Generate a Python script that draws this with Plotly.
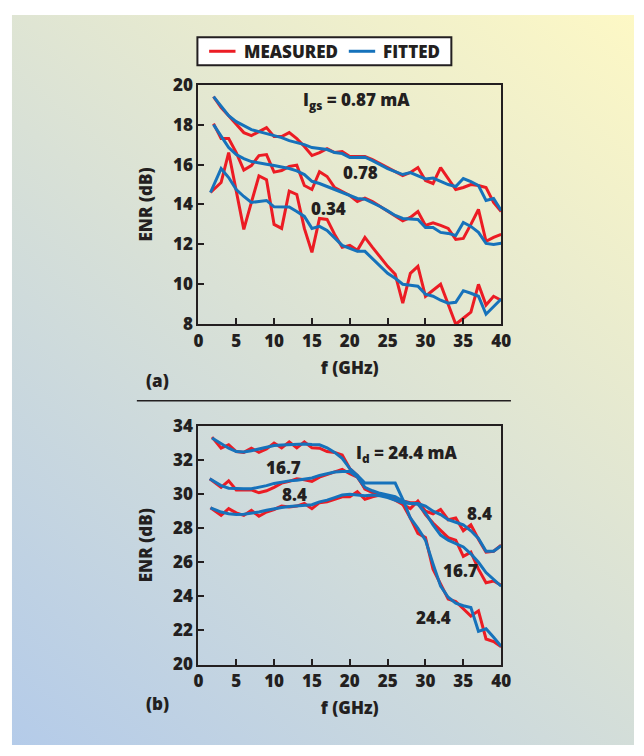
import base64
import plotly.graph_objects as go

W, H = 644, 756

# ---------------- data (a) ----------------
f_a = list(range(2, 41))
f_a_low = [1.6] + list(range(3, 41))

meas_087 = [19.4, 18.85, 18.45, 18.0, 17.6, 17.45, 17.65, 17.85, 17.4, 17.4, 17.6, 17.3, 16.9,
            16.45, 16.6, 16.8, 16.6, 16.65, 16.4, 16.4, 16.4, 16.25, 16.05, 15.85, 15.65, 15.45,
            15.6, 15.85, 15.2, 15.05, 15.85, 15.3, 14.75, 14.85, 15.0, 14.95, 14.85, 14.1, 13.65]
fit_087 = [19.4, 18.9, 18.45, 18.15, 17.95, 17.75, 17.65, 17.55, 17.45, 17.35, 17.2, 17.1, 17.0,
           16.85, 16.8, 16.75, 16.6, 16.55, 16.35, 16.37, 16.37, 16.2, 16.0, 15.8, 15.65, 15.5,
           15.6, 15.45, 15.28, 15.32, 15.15, 15.0, 14.9, 15.3, 15.15, 14.95, 14.2, 14.3, 13.7]

meas_078 = [18.05, 17.3, 17.3, 16.6, 15.72, 15.95, 16.45, 16.5, 15.62, 15.7, 15.9, 15.97, 14.95,
            14.75, 15.64, 15.4, 14.85, 14.65, 14.45, 14.15, 14.32, 14.15, 13.9, 13.65, 13.4, 13.18,
            13.35, 13.65, 12.95, 13.08, 12.95, 12.8, 12.25, 12.3, 13.0, 13.75, 12.15, 12.35, 12.5]
fit_078 = [18.0, 17.4, 16.85, 16.5, 16.3, 16.15, 16.07, 16.02, 15.95, 15.88, 15.8, 15.68, 15.5,
           15.16, 15.05, 14.9, 14.75, 14.6, 14.42, 14.3, 14.26, 14.1, 13.9, 13.68, 13.45, 13.3,
           13.28, 13.25, 12.85, 12.85, 12.6, 12.55, 12.45, 13.1, 12.9, 12.6, 12.05, 12.0, 12.06]

meas_034 = [14.6, 15.1, 16.6, 14.7, 12.75, 14.1, 15.43, 15.24, 13.0, 12.8, 14.67, 14.5, 12.8,
            11.6, 13.3, 13.25, 12.5, 11.85, 11.95, 11.7, 12.35, 11.85, 11.35, 10.9, 10.5, 9.06,
            10.55, 10.9, 9.4, 9.7, 10.0, 9.0, 8.0, 8.3, 8.6, 10.0, 8.96, 9.4, 9.2]
fit_034 = [14.6, 15.8, 15.35, 14.75, 14.4, 14.1, 14.15, 14.2, 13.88, 13.87, 13.87, 13.65, 13.4,
           12.8, 12.9, 12.7, 12.3, 11.95, 11.8, 11.65, 11.65, 11.3, 10.9, 10.55, 10.3, 10.0,
           9.95, 9.9, 9.5, 9.4, 9.2, 9.05, 9.1, 9.68, 9.55, 9.4, 8.5, 8.9, 9.26]

# ---------------- data (b) ----------------
f_b_244 = [1.8] + list(range(3, 41))
f_b_167 = [1.5] + list(range(3, 41))
f_b_84 = [1.6] + list(range(3, 41))

meas_244 = [33.35, 32.7, 32.9, 32.5, 32.45, 32.7, 32.45, 32.65, 33.0, 32.72, 33.07, 32.72, 33.07,
            32.72, 32.7, 32.5, 32.45, 32.3, 31.5, 31.1, 30.3, 30.1, 30.0, 29.9, 29.8, 29.4,
            28.6, 27.7, 27.45, 25.6, 24.75, 23.85, 23.7, 23.3, 22.85, 23.15, 21.5, 21.35, 21.05]
fit_244 = [33.3, 32.95, 32.7, 32.5, 32.48, 32.55, 32.65, 32.75, 32.85, 32.88, 32.9, 32.92, 32.95,
           32.92, 32.9, 32.72, 32.45, 32.1, 31.5, 31.1, 30.65, 30.65, 30.65, 30.65, 30.65, 29.7,
           28.6, 28.0, 27.3, 25.9, 24.6, 23.95, 23.6, 23.45, 23.35, 21.95, 22.1, 21.6, 21.07]

meas_167 = [30.9, 30.4, 30.78, 30.25, 30.25, 30.25, 30.08, 30.2, 30.4, 30.65, 30.75, 30.9, 30.85,
            30.75, 31.0, 31.15, 31.3, 31.45, 31.2, 31.0, 30.35, 30.15, 30.0, 29.85, 29.7, 29.6,
            29.5, 29.5, 28.8, 28.3, 27.85, 27.45, 27.3, 26.35, 26.6, 25.6, 24.8, 24.9, 24.65]
fit_167 = [30.9, 30.5, 30.35, 30.32, 30.32, 30.32, 30.4, 30.5, 30.63, 30.72, 30.78, 30.82, 30.88,
           30.95, 31.1, 31.2, 31.3, 31.33, 31.33, 31.0, 30.4, 30.2, 30.05, 29.95, 29.85, 29.6,
           29.45, 29.4, 28.9, 28.2, 27.6, 27.3, 27.1, 26.9, 26.5, 26.0, 25.4, 25.0, 24.6]

meas_84 = [29.2, 28.75, 29.15, 28.9, 28.75, 29.05, 28.7, 28.95, 29.1, 29.3, 29.25, 29.3, 29.45,
           29.15, 29.5, 29.55, 29.7, 29.85, 29.85, 30.15, 29.7, 29.85, 29.95, 29.85, 29.65, 29.4,
           29.15, 29.6, 29.0, 28.85, 29.1, 28.5, 28.6, 27.85, 28.2, 27.35, 26.6, 26.65, 27.0]
fit_84 = [29.2, 28.95, 28.85, 28.8, 28.82, 28.88, 28.95, 29.05, 29.15, 29.22, 29.28, 29.32, 29.35,
          29.38, 29.55, 29.65, 29.8, 29.95, 30.0, 29.95, 29.9, 29.95, 29.9, 29.8, 29.65, 29.5,
          29.45, 29.45, 29.3, 29.0, 28.8, 28.5, 28.35, 28.2, 27.85, 27.4, 26.65, 26.65, 26.97]

x_ticks = [0, 5, 10, 15, 20, 25, 30, 35, 40]
y_ticks_a = [8, 10, 12, 14, 16, 18, 20]
y_ticks_b = [20, 22, 24, 26, 28, 30, 32, 34]
legend_labels = ["MEASURED", "FITTED"]

RED = "#ec1c24"
BLUE = "#1672bb"
INK = "#231f20"
FONT = "Open Sans"

fig = go.Figure()

def add(x, y, color, xa, ya, name):
    fig.add_trace(go.Scatter(x=x, y=y, mode="lines", line=dict(color=color, width=3),
                             xaxis=xa, yaxis=ya, name=name, showlegend=False,
                             hoverinfo="skip"))

# measured first, fitted on top
add(f_a, meas_087, RED, "x", "y", "MEASURED 0.87")
add(f_a, meas_078, RED, "x", "y", "MEASURED 0.78")
add(f_a_low, meas_034, RED, "x", "y", "MEASURED 0.34")
add(f_b_244, meas_244, RED, "x2", "y2", "MEASURED 24.4")
add(f_b_167, meas_167, RED, "x2", "y2", "MEASURED 16.7")
add(f_b_84, meas_84, RED, "x2", "y2", "MEASURED 8.4")
add(f_a, fit_087, BLUE, "x", "y", "FITTED 0.87")
add(f_a, fit_078, BLUE, "x", "y", "FITTED 0.78")
add(f_a_low, fit_034, BLUE, "x", "y", "FITTED 0.34")
add(f_b_244, fit_244, BLUE, "x2", "y2", "FITTED 24.4")
add(f_b_167, fit_167, BLUE, "x2", "y2", "FITTED 16.7")
add(f_b_84, fit_84, BLUE, "x2", "y2", "FITTED 8.4")

def px_x(p):
    return p / W

def px_y(p):
    return 1 - p / H

xdom = [px_x(198), px_x(508)]
axfont = dict(family=FONT, size=17, color=INK, weight=800)
common_x = dict(range=[0, 40], tickvals=x_ticks, ticks="inside", ticklen=6, tickwidth=2,
                tickcolor=INK, showline=True, linecolor=INK, linewidth=2, mirror=True,
                showgrid=False, zeroline=False, tickfont=axfont, domain=xdom,
                title=dict(text="f (GHz)", font=axfont, standoff=11))
common_y = dict(ticks="inside", ticklen=6, tickwidth=2, tickcolor=INK, showline=True,
                linecolor=INK, linewidth=2, mirror=True, showgrid=False, zeroline=False,
                tickfont=axfont, title=dict(text="ENR (dB)", font=axfont, standoff=16))

fig.update_layout(
    width=W, height=H, margin=dict(l=0, r=0, t=0, b=0),
    paper_bgcolor="white", plot_bgcolor="white",
    font=dict(family=FONT, color=INK),
    showlegend=False,
    xaxis=dict(common_x, anchor="y"),
    yaxis=dict(common_y, range=[8, 20], tickvals=y_ticks_a,
               domain=[px_y(322), px_y(75)], anchor="x"),
    xaxis2=dict(common_x, anchor="y2"),
    yaxis2=dict(common_y, range=[20, 34], tickvals=y_ticks_b,
                domain=[px_y(673), px_y(427)], anchor="x2"),
)

# gradient background
svg = ('<svg xmlns="http://www.w3.org/2000/svg" width="644" height="756" viewBox="0 0 644 756" '
       'preserveAspectRatio="none"><defs><linearGradient id="g" gradientUnits="userSpaceOnUse" '
       'x1="0" y1="756" x2="644" y2="0"><stop offset="0" stop-color="#b4cbe9"/>'
       '<stop offset="0.5" stop-color="#d9e1d6"/><stop offset="1" stop-color="#fdf8c5"/>'
       '</linearGradient></defs><rect width="644" height="756" fill="url(#g)"/></svg>')
src = "data:image/svg+xml;base64," + base64.b64encode(svg.encode()).decode()
fig.add_layout_image(dict(source=src, xref="paper", yref="paper", x=px_x(7), y=px_y(3),
                          sizex=1 - px_x(7), sizey=1 - 3 / H, xanchor="left", yanchor="top",
                          sizing="stretch", layer="below"))

# separator
fig.add_shape(type="line", xref="paper", yref="paper", x0=px_x(135), x1=px_x(518),
              y0=px_y(401), y1=px_y(401), line=dict(color=INK, width=1.5))

lab = dict(family=FONT, size=17, color=INK, weight=800)

# legend box
fig.add_shape(type="rect", xref="paper", yref="paper", x0=px_x(197), x1=px_x(457),
              y0=px_y(55), y1=px_y(26), fillcolor="white", line=dict(color=INK, width=2))
for (x0, x1, tx, color, text) in [(209, 236, 243, RED, legend_labels[0]),
                                  (352, 379, 385, BLUE, legend_labels[1])]:
    fig.add_shape(type="line", xref="paper", yref="paper", x0=px_x(x0), x1=px_x(x1),
                  y0=px_y(40.5), y1=px_y(40.5), line=dict(color=color, width=3))
    fig.add_annotation(text=text, xref="paper", yref="paper", x=px_x(tx), y=px_y(40.5),
                       xanchor="left", yanchor="middle", showarrow=False, font=lab)

def note(text, xa, ya, x, y):
    fig.add_annotation(text=text, xref=xa, yref=ya, x=x, y=y, showarrow=False, font=lab)

note("I<sub>gs</sub> = 0.87 mA", "x", "y", 20.9, 19.2)
note("0.78", "x", "y", 21.4, 15.6)
note("0.34", "x", "y", 17.2, 13.8)
note("I<sub>d</sub> = 24.4 mA", "x2", "y2", 27.6, 32.4)
note("16.7", "x2", "y2", 11.2, 31.55)
note("8.4", "x2", "y2", 12.75, 30.0)
note("8.4", "x2", "y2", 37.1, 28.86)
note("16.7", "x2", "y2", 34.6, 25.54)
note("24.4", "x2", "y2", 31.1, 22.74)

fig.add_annotation(text="(a)", xref="paper", yref="paper", x=px_x(142), y=px_y(380),
                   showarrow=False, font=lab)
fig.add_annotation(text="(b)", xref="paper", yref="paper", x=px_x(142), y=px_y(727),
                   showarrow=False, font=lab)

fig.write_html("out.html")
